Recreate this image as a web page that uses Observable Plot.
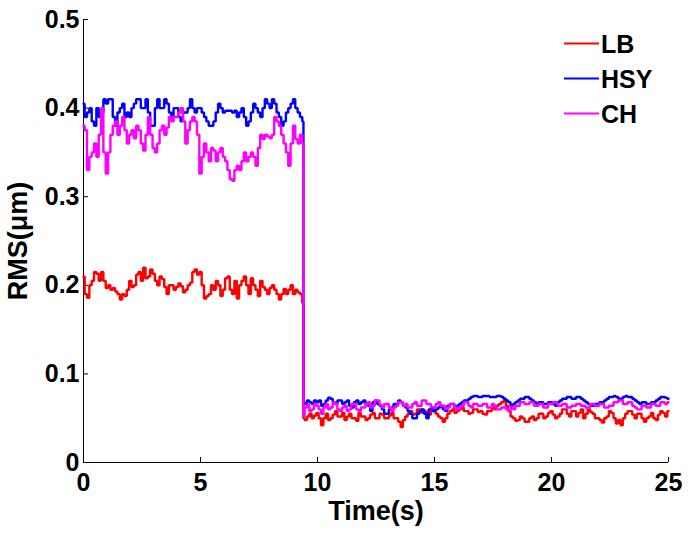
<!DOCTYPE html>
<html>
<head>
<meta charset="utf-8">
<script src="https://cdn.jsdelivr.net/npm/d3@7"></script>
<script src="https://cdn.jsdelivr.net/npm/@observablehq/plot@0.6"></script>
<style>
  body { margin: 0; background: #fff; }
  #chart { position: relative; width: 691px; height: 533px; }
</style>
</head>
<body>
<div id="chart"></div>
<script>
// ---- data ----
const seriesNames = ["LB", "HSY", "CH"];
const seriesColors = ["#ff0000", "#0000ff", "#ff00ff"];
const sampleStep = 0.1;      // seconds between samples
const dropTime = 9.4;        // time of the step change (s)

// before the change: t = 0 ... 9.4
const lbHigh = [
  0.21, 0.19, 0.186, 0.20, 0.205, 0.215, 0.213, 0.205, 0.215, 0.205,
  0.197, 0.20, 0.195, 0.197, 0.193, 0.19, 0.184, 0.19, 0.188, 0.195,
  0.205, 0.198, 0.20, 0.212, 0.215, 0.205, 0.22, 0.208, 0.21, 0.218,
  0.213, 0.205, 0.20, 0.21, 0.207, 0.198, 0.19, 0.20, 0.20, 0.195,
  0.198, 0.202, 0.199, 0.192, 0.195, 0.20, 0.203, 0.215, 0.218, 0.212,
  0.215, 0.20, 0.185, 0.188, 0.19, 0.20, 0.195, 0.205, 0.20, 0.188,
  0.195, 0.208, 0.21, 0.195, 0.19, 0.205, 0.185, 0.20, 0.205, 0.21,
  0.20, 0.19, 0.208, 0.20, 0.195, 0.188, 0.205, 0.198, 0.195, 0.19,
  0.197, 0.20, 0.195, 0.19, 0.184, 0.19, 0.196, 0.19, 0.195, 0.20,
  0.19, 0.195, 0.192, 0.19, 0.18
];
const hsyHigh = [
  0.405, 0.39, 0.395, 0.40, 0.385, 0.38, 0.40, 0.39, 0.395, 0.41,
  0.405, 0.41, 0.41, 0.39, 0.38, 0.395, 0.40, 0.405, 0.39, 0.395,
  0.39, 0.40, 0.405, 0.41, 0.41, 0.40, 0.40, 0.41, 0.395, 0.38,
  0.38, 0.40, 0.41, 0.40, 0.40, 0.41, 0.405, 0.395, 0.39, 0.40,
  0.40, 0.39, 0.385, 0.395, 0.395, 0.40, 0.41, 0.40, 0.395, 0.40,
  0.40, 0.395, 0.39, 0.385, 0.38, 0.38, 0.385, 0.395, 0.405, 0.40,
  0.395, 0.397, 0.397, 0.397, 0.395, 0.397, 0.39, 0.395, 0.40, 0.39,
  0.38, 0.385, 0.395, 0.405, 0.40, 0.395, 0.39, 0.40, 0.41, 0.405,
  0.40, 0.41, 0.405, 0.395, 0.39, 0.38, 0.385, 0.395, 0.40, 0.405,
  0.41, 0.40, 0.395, 0.39, 0.385
];
const chHigh = [
  0.38, 0.375, 0.33, 0.345, 0.35, 0.36, 0.345, 0.37, 0.40, 0.35,
  0.326, 0.35, 0.37, 0.38, 0.385, 0.37, 0.38, 0.39, 0.375, 0.36,
  0.37, 0.375, 0.366, 0.38, 0.375, 0.36, 0.352, 0.37, 0.39, 0.37,
  0.355, 0.35, 0.36, 0.375, 0.38, 0.37, 0.378, 0.39, 0.385, 0.39,
  0.39, 0.395, 0.40, 0.385, 0.36, 0.375, 0.385, 0.39, 0.385, 0.37,
  0.326, 0.345, 0.36, 0.35, 0.34, 0.355, 0.352, 0.34, 0.35, 0.355,
  0.345, 0.34, 0.33, 0.32, 0.318, 0.33, 0.335, 0.33, 0.34, 0.35,
  0.34, 0.345, 0.35, 0.345, 0.335, 0.355, 0.37, 0.365, 0.37, 0.368,
  0.366, 0.37, 0.39, 0.385, 0.38, 0.37, 0.36, 0.35, 0.335, 0.36,
  0.38, 0.365, 0.36, 0.37, 0.36
];

// after the change: t = 9.4 ... 25
const lbLow = [
  0.05, 0.048, 0.052, 0.055, 0.05, 0.053,
  0.056, 0.05, 0.042, 0.05, 0.055, 0.048, 0.05, 0.054, 0.058, 0.052,
  0.052, 0.056, 0.048, 0.052, 0.055, 0.05, 0.05, 0.047, 0.056, 0.052,
  0.052, 0.048, 0.05, 0.054, 0.056, 0.05, 0.05, 0.055, 0.054, 0.05,
  0.05, 0.053, 0.056, 0.05, 0.05, 0.046, 0.04, 0.048, 0.052, 0.055,
  0.058, 0.054, 0.055, 0.06, 0.06, 0.056, 0.058, 0.055, 0.054, 0.058,
  0.058, 0.055, 0.052, 0.05, 0.046, 0.05, 0.055, 0.058, 0.06, 0.056,
  0.058, 0.06, 0.062, 0.058, 0.058, 0.055, 0.056, 0.06, 0.06, 0.057,
  0.058, 0.055, 0.054, 0.058, 0.058, 0.062, 0.06, 0.064, 0.066, 0.068,
  0.07, 0.064, 0.058, 0.052, 0.05, 0.047, 0.048, 0.052, 0.05, 0.046,
  0.046, 0.05, 0.052, 0.048, 0.05, 0.055, 0.055, 0.05, 0.052, 0.056,
  0.058, 0.054, 0.05, 0.052, 0.055, 0.06, 0.06, 0.055, 0.052, 0.058,
  0.058, 0.052, 0.056, 0.06, 0.05, 0.055, 0.06, 0.057, 0.055, 0.05,
  0.05, 0.048, 0.045, 0.05, 0.052, 0.058, 0.056, 0.05, 0.044, 0.048,
  0.042, 0.05, 0.055, 0.058, 0.058, 0.054, 0.05, 0.055, 0.055, 0.05,
  0.046, 0.05, 0.052, 0.056, 0.05, 0.048, 0.054, 0.058, 0.056, 0.052,
  0.058
];
const hsyLow = [
  0.068, 0.066, 0.07, 0.068, 0.066, 0.07,
  0.068, 0.07, 0.064, 0.066, 0.07, 0.073, 0.072, 0.068, 0.066, 0.07,
  0.07, 0.066, 0.068, 0.07, 0.064, 0.062, 0.068, 0.07, 0.066, 0.068,
  0.07, 0.066, 0.064, 0.058, 0.068, 0.07, 0.066, 0.064, 0.06, 0.055,
  0.055, 0.06, 0.062, 0.066, 0.066, 0.07, 0.068, 0.064, 0.062, 0.058,
  0.055, 0.05, 0.05, 0.055, 0.058, 0.06, 0.055, 0.05, 0.06, 0.062,
  0.058, 0.06, 0.062, 0.064, 0.06, 0.058, 0.064, 0.066, 0.066, 0.062,
  0.064, 0.066, 0.068, 0.07, 0.07, 0.072, 0.074, 0.075, 0.075, 0.074,
  0.074, 0.075, 0.075, 0.075, 0.074, 0.074, 0.074, 0.075, 0.075, 0.074,
  0.072, 0.07, 0.068, 0.064, 0.066, 0.068, 0.07, 0.072, 0.072, 0.074,
  0.074, 0.072, 0.07, 0.068, 0.066, 0.068, 0.068, 0.066, 0.066, 0.068,
  0.068, 0.066, 0.064, 0.068, 0.07, 0.072, 0.072, 0.074, 0.074, 0.072,
  0.072, 0.074, 0.074, 0.072, 0.07, 0.068, 0.066, 0.064, 0.064, 0.066,
  0.066, 0.068, 0.068, 0.07, 0.072, 0.074, 0.074, 0.075, 0.074, 0.072,
  0.072, 0.074, 0.075, 0.074, 0.074, 0.072, 0.07, 0.068, 0.066, 0.068,
  0.068, 0.066, 0.066, 0.068, 0.068, 0.07, 0.072, 0.074, 0.074, 0.073,
  0.072
];
const chLow = [
  0.052, 0.062, 0.065, 0.058, 0.06, 0.066,
  0.064, 0.06, 0.055, 0.062, 0.066, 0.06, 0.062, 0.068, 0.066, 0.06,
  0.058, 0.062, 0.064, 0.058, 0.06, 0.066, 0.066, 0.06, 0.058, 0.062,
  0.062, 0.066, 0.068, 0.062, 0.064, 0.07, 0.07, 0.065, 0.062, 0.066,
  0.066, 0.062, 0.058, 0.062, 0.064, 0.068, 0.068, 0.064, 0.066, 0.062,
  0.062, 0.066, 0.068, 0.064, 0.064, 0.07, 0.07, 0.066, 0.066, 0.062,
  0.062, 0.066, 0.068, 0.064, 0.064, 0.06, 0.062, 0.066, 0.066, 0.062,
  0.06, 0.062, 0.064, 0.068, 0.068, 0.064, 0.062, 0.066, 0.066, 0.064,
  0.064, 0.066, 0.066, 0.062, 0.062, 0.066, 0.064, 0.06, 0.06, 0.062,
  0.062, 0.06, 0.058, 0.062, 0.06, 0.064, 0.064, 0.068, 0.068, 0.066,
  0.066, 0.068, 0.068, 0.064, 0.064, 0.066, 0.066, 0.062, 0.062, 0.066,
  0.066, 0.068, 0.068, 0.064, 0.064, 0.066, 0.066, 0.062, 0.062, 0.064,
  0.064, 0.066, 0.066, 0.064, 0.064, 0.062, 0.062, 0.066, 0.066, 0.064,
  0.064, 0.066, 0.066, 0.062, 0.062, 0.064, 0.064, 0.068, 0.068, 0.07,
  0.07, 0.066, 0.066, 0.068, 0.068, 0.064, 0.062, 0.06, 0.06, 0.064,
  0.064, 0.062, 0.062, 0.066, 0.066, 0.064, 0.064, 0.068, 0.068, 0.066,
  0.068
];

const xTicks = [0, 5, 10, 15, 20, 25];
const xTickLabels = ["0", "5", "10", "15", "20", "25"];
const yTicks = [0, 0.1, 0.2, 0.3, 0.4, 0.5];
const yTickLabels = ["0", "0.1", "0.2", "0.3", "0.4", "0.5"];
const xLabel = "Time(s)";
const yLabel = "RMS(\u03bcm)";

// ---- build table ----
function buildRows(name, high, low) {
  const rows = [];
  high.forEach((v, i) => rows.push({series: name, t: +(i * sampleStep).toFixed(3), v}));
  low.forEach((v, i) => rows.push({series: name, t: +(dropTime + i * sampleStep).toFixed(3), v}));
  return rows;
}
const data = [
  ...buildRows("LB", lbHigh, lbLow),
  ...buildRows("HSY", hsyHigh, hsyLow),
  ...buildRows("CH", chHigh, chLow)
];

const font = "'Liberation Sans', Arial, Helvetica, sans-serif";
const W = 691, H = 533, mL = 83, mR = 23, mT = 19, mB = 71;
const tickLen = 5;

const plot = Plot.plot({
  width: W,
  height: H,
  marginLeft: mL,
  marginRight: mR,
  marginTop: mT,
  marginBottom: mB,
  style: {fontFamily: font, background: "#fff", overflow: "visible"},
  x: {domain: [0, 25]},
  y: {domain: [0, 0.5]},
  color: {domain: seriesNames, range: seriesColors},
  marks: [
    Plot.axisX({ticks: xTicks, tickFormat: d => xTickLabels[xTicks.indexOf(d)], tickSize: 0, tickPadding: 11,
      fontSize: 25, fontWeight: "bold", label: null}),
    Plot.axisY({ticks: yTicks, tickFormat: d => yTickLabels[yTicks.indexOf(d)], tickSize: 0, tickPadding: 4,
      fontSize: 25, fontWeight: "bold", label: null}),
    // inward tick marks
    Plot.tickX(xTicks, {x: d => d, stroke: "#000", strokeWidth: 1, insetTop: H - mT - mB - tickLen}),
    Plot.tickY(yTicks, {y: d => d, stroke: "#000", strokeWidth: 1, insetRight: W - mL - mR - tickLen}),
    Plot.ruleY([0], {stroke: "#000", strokeWidth: 1}),
    Plot.ruleX([0], {stroke: "#000", strokeWidth: 1}),
    Plot.line(data, {x: "t", y: "v", z: "series", stroke: "series", strokeWidth: 2.4,
      curve: "step", strokeLinejoin: "miter"}),
    Plot.text([xLabel], {text: d => d, frameAnchor: "bottom", lineAnchor: "middle", dy: 49,
      fontSize: 27, fontWeight: "bold", fill: "#000"}),
    Plot.text([yLabel], {text: d => d, frameAnchor: "left", textAnchor: "middle", lineAnchor: "middle",
      rotate: -90, dx: -65, fontSize: 27, fontWeight: "bold", fill: "#000"})
  ]
});

// legend (top right, inside the axes)
const svg = d3.select(plot);
const lg = svg.append("g")
  .attr("font-family", font)
  .attr("font-size", 25)
  .attr("font-weight", "bold")
  .attr("text-anchor", "start");
seriesNames.forEach((name, i) => {
  const baseline = 53 + i * 35;
  lg.append("line")
    .attr("x1", 564).attr("x2", 599)
    .attr("y1", baseline - 9.5).attr("y2", baseline - 9.5)
    .attr("stroke", seriesColors[i]).attr("stroke-width", 2);
  lg.append("text")
    .attr("x", 601).attr("y", baseline)
    .attr("fill", "#000")
    .attr("text-anchor", "start")
    .text(name);
});

document.getElementById("chart").appendChild(plot);
</script>
</body>
</html>
